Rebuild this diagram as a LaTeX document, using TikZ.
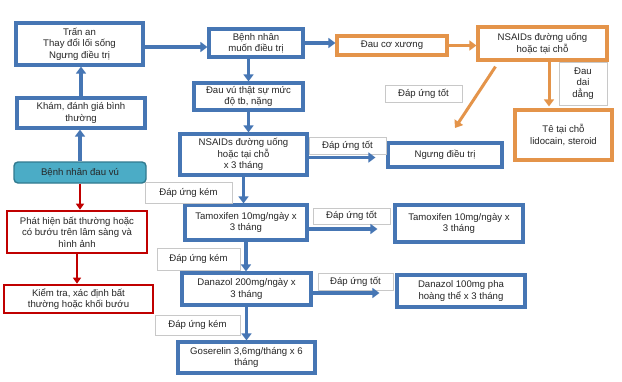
\documentclass[tikz,border=0pt]{standalone}
\usepackage{fontspec}
\setmainfont{Liberation Sans}
\usetikzlibrary{arrows.meta}
\definecolor{bblue}{RGB}{70,118,180}
\definecolor{borange}{RGB}{228,148,74}
\definecolor{bred}{RGB}{192,0,0}
\definecolor{tealfill}{RGB}{75,172,198}
\definecolor{tealdraw}{RGB}{49,122,143}
\definecolor{lblgray}{RGB}{200,200,200}
\definecolor{txt}{RGB}{38,38,38}
\begin{document}
\begin{tikzpicture}[x=1pt,y=-1pt,
  every node/.style={font=\fontsize{9.6}{11.5}\selectfont, text=txt, align=center, inner sep=1pt},
  bluebox/.style={draw=bblue, line width=3.2pt, fill=white},
  orangebox/.style={draw=borange, line width=3.2pt, fill=white},
  redbox/.style={draw=bred, line width=2.6pt, fill=white},
  tealbox/.style={draw=tealdraw, line width=1.4pt, fill=tealfill, rounded corners=4pt},
  lblbox/.style={draw=lblgray, line width=0.8pt, fill=white},
  barrow/.style={draw=bblue, line width=3.2pt, -{Triangle[length=7pt,width=10pt]}},
  oarrow/.style={draw=borange, line width=3pt, -{Triangle[length=7pt,width=10pt]}},
  rarrow/.style={draw=bred, line width=2.4pt, -{Triangle[length=6pt,width=8pt]}},
]
\useasboundingbox (0,0) rectangle (622,381);
\fill[white] (0,0) rectangle (622,381);

% left column
\node[bluebox, minimum width=127pt, minimum height=42pt] (tran) at (79.5,44) {Trấn an\\Thay đổi lối sống\\Ngưng điều trị};
\node[bluebox, minimum width=128pt, minimum height=30pt] (kham) at (81,113) {Khám, đánh giá bình\\thường};
\node[tealbox, minimum width=132pt, minimum height=21pt] (dauvu) at (80,172.5) {Bệnh nhân đau vú};
\node[redbox, minimum width=140pt, minimum height=42pt] (phat) at (77,232) {Phát hiện bất thường hoặc\\có bướu trên lâm sàng và\\hình ảnh};
\node[redbox, minimum width=149pt, minimum height=28pt] (kiem) at (78.5,299) {Kiểm tra, xác định bất\\thường hoặc khối bướu};

% center column
\node[bluebox, minimum width=94pt, minimum height=28pt] (muon) at (256,43) {Bệnh nhân\\muốn điều trị};
\node[bluebox, minimum width=109pt, minimum height=27pt] (dv) at (248.5,96.5) {Đau vú thật sự mức\\độ tb, nặng};
\node[bluebox, minimum width=127pt, minimum height=41pt] (nsaid) at (243.5,154.5) {NSAIDs đường uống\\hoặc tại chỗ\\x 3 tháng};
\node[bluebox, minimum width=122pt, minimum height=35pt] (tamL) at (246,222.5) {Tamoxifen 10mg/ngày x\\3 tháng};
\node[bluebox, minimum width=129pt, minimum height=32pt] (danL) at (246.5,289) {Danazol 200mg/ngày x\\3 tháng};
\node[bluebox, minimum width=137pt, minimum height=31pt] (gos) at (246.5,357.5) {Goserelin 3,6mg/tháng x 6\\tháng};

\node[lblbox, minimum width=87pt, minimum height=21pt] (kem1) at (188.5,192.5) {Đáp ứng kém};
\node[lblbox, minimum width=83pt, minimum height=22pt] (kem2) at (198.5,259) {Đáp ứng kém};
\node[lblbox, minimum width=85pt, minimum height=20pt] (kem3) at (197.5,325) {Đáp ứng kém};

% right column
\node[bluebox, minimum width=114pt, minimum height=24pt] (ngung) at (445,155) {Ngưng điều trị};
\node[bluebox, minimum width=128pt, minimum height=37pt] (tamR) at (459,223.5) {Tamoxifen 10mg/ngày x\\3 tháng};
\node[bluebox, minimum width=128pt, minimum height=32pt] (danR) at (461,291) {Danazol 100mg pha\\hoàng thể x 3 tháng};

\node[lblbox, minimum width=77pt, minimum height=17pt] (tot1) at (347.5,145.5) {Đáp ứng tốt};
\node[lblbox, minimum width=77pt, minimum height=16pt] (tot2) at (351.5,216) {Đáp ứng tốt};
\node[lblbox, minimum width=75pt, minimum height=17pt] (tot3) at (355.5,281.5) {Đáp ứng tốt};

% orange branch
\node[orangebox, minimum width=110pt, minimum height=19pt] (dauco) at (392,45.5) {Đau cơ xương};
\node[orangebox, minimum width=129pt, minimum height=33pt] (nsaido) at (542.5,43.5) {NSAIDs đường uống\\hoặc tại chỗ};
\node[orangebox, minimum width=97pt, minimum height=50pt] (te) at (563.5,135) {Tê tại chỗ\\lidocain, steroid};
\node[lblbox, minimum width=48pt, minimum height=43pt] (daidang) at (583,83.5) {Đau\\dai\\dẳng};
\node[lblbox, minimum width=77pt, minimum height=17pt] (toto) at (423.5,93.5) {Đáp ứng tốt};
\coordinate (diagtip) at (455,128);

% connectors left
\draw[barrow] (kham.north) -- (kham.north |- tran.south);
\draw[barrow] (dauvu.north) -- (dauvu.north |- kham.south);
\draw[rarrow] (dauvu.south) -- (dauvu.south |- phat.north);
\draw[rarrow] (phat.south) -- (phat.south |- kiem.north);
\draw[barrow] ([yshift=-3pt]tran.east) -- ([yshift=-3pt]tran.east -| muon.west);

% connectors center
\draw[barrow] (muon.east) -- (muon.east -| dauco.west);
\draw[barrow] (muon.south -| dv.north) -- (dv.north);
\draw[barrow] (dv.south) -- (dv.south |- nsaid.north);
\draw[barrow] (nsaid.south) -- (nsaid.south |- tamL.north);
\draw[barrow] (tamL.south) -- (tamL.south |- danL.north);
\draw[barrow] (danL.south) -- (danL.south |- gos.north);

\draw[barrow, shorten >=11pt] ([yshift=-3pt]nsaid.east) -- ([yshift=-3pt]nsaid.east -| ngung.west);
\draw[barrow, shorten >=16pt] ([yshift=-6.5pt]tamL.east) -- ([yshift=-6.5pt]tamL.east -| tamR.west);
\draw[barrow, shorten >=16pt] ([yshift=-4pt]danL.east) -- ([yshift=-4pt]danL.east -| danR.west);

% orange connectors
\draw[oarrow] (dauco.east) -- (dauco.east -| nsaido.west);
\draw[oarrow, shorten >=2pt] ([xshift=6.5pt]nsaido.south) -- ([xshift=6.5pt]nsaido.south |- te.north);
\draw[oarrow] ([xshift=-47pt,yshift=-5pt]nsaido.south) -- (diagtip);
\end{tikzpicture}
\end{document}
